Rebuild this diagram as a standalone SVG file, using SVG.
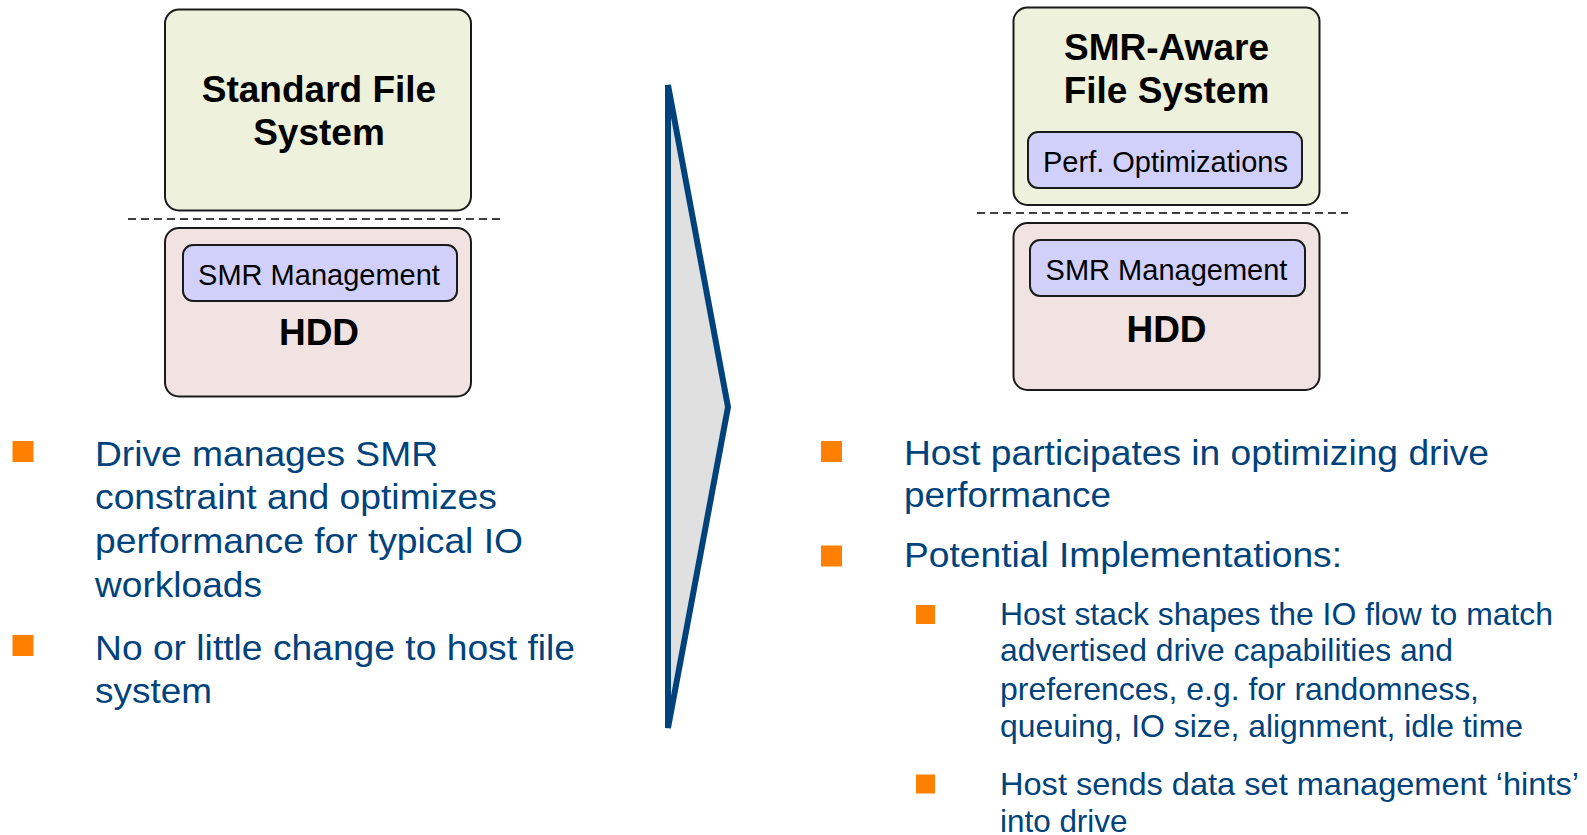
<svg xmlns="http://www.w3.org/2000/svg" width="1587" height="835" viewBox="0 0 1587 835">
<style>
.fs{fill:#eef1dc;stroke:#1a1a1a;stroke-width:2}
.hdd{fill:#f2e3e3;stroke:#1a1a1a;stroke-width:2}
.inner{fill:#d0d0fa;stroke:#1a1a1a;stroke-width:2}
.title{font-family:"Liberation Sans",Arial,sans-serif;font-weight:bold;font-size:37px;fill:#000;text-anchor:middle}
.label{font-family:"Liberation Sans",Arial,sans-serif;font-size:29px;fill:#000;text-anchor:middle}
.dash{stroke:#000;stroke-width:1.5;stroke-dasharray:8 5;fill:none}
.b1{font-family:"Liberation Sans",Arial,sans-serif;font-size:35px;fill:#00437c}
.b2{font-family:"Liberation Sans",Arial,sans-serif;font-size:30.5px;fill:#00437c}
.sq{fill:#ff8000}
</style>
<g id="left-fs">
<rect class="fs" x="165" y="9.5" width="306" height="201" rx="14"/>
<text class="title" x="319" y="101.5">Standard File</text>
<text class="title" x="319" y="145">System</text>
</g>
<g id="left-hdd">
<rect class="hdd" x="165" y="228" width="306" height="168.5" rx="14"/>
<rect class="inner" x="183" y="245" width="274" height="56" rx="10"/>
<text class="label" x="319" y="285">SMR Management</text>
<text class="title" x="319" y="345">HDD</text>
</g>
<g id="right-fs">
<rect class="fs" x="1013.5" y="7.5" width="306" height="197.5" rx="14"/>
<text class="title" x="1166.5" y="60">SMR-Aware</text>
<text class="title" x="1166.5" y="102.5">File System</text>
<rect class="inner" x="1028" y="132" width="274" height="56" rx="10"/>
<text class="label" x="1165.5" y="171.5">Perf. Optimizations</text>
</g>
<g id="right-hdd">
<rect class="hdd" x="1013.5" y="223" width="306" height="167" rx="14"/>
<rect class="inner" x="1030" y="240" width="275" height="56" rx="10"/>
<text class="label" x="1166.5" y="279.5">SMR Management</text>
<text class="title" x="1166.5" y="341.5">HDD</text>
</g>
<g id="connectors">
<line class="dash" x1="128" y1="219" x2="502" y2="219"/>
<line class="dash" x1="977" y1="213" x2="1348" y2="213"/>
<polygon points="668,85 728,407 668,728" fill="#e0e0e0" stroke="#00437c" stroke-width="6" stroke-linejoin="miter"/>
</g>
<g id="left-bullets">
<rect class="sq" x="12.5" y="441" width="21" height="21"/>
<text class="b1" x="95" y="466" textLength="343" lengthAdjust="spacingAndGlyphs">Drive manages SMR</text>
<text class="b1" x="95" y="509" textLength="402" lengthAdjust="spacingAndGlyphs">constraint and optimizes</text>
<text class="b1" x="95" y="553" textLength="428" lengthAdjust="spacingAndGlyphs">performance for typical IO</text>
<text class="b1" x="95" y="597" textLength="167" lengthAdjust="spacingAndGlyphs">workloads</text>
<rect class="sq" x="12.5" y="635" width="21" height="21"/>
<text class="b1" x="95" y="660" textLength="480" lengthAdjust="spacingAndGlyphs">No or little change to host file</text>
<text class="b1" x="95" y="703" textLength="117" lengthAdjust="spacingAndGlyphs">system</text>
</g>
<g id="right-bullets">
<rect class="sq" x="821" y="441" width="21" height="21"/>
<text class="b1" x="904" y="464.5" textLength="585" lengthAdjust="spacingAndGlyphs">Host participates in optimizing drive</text>
<text class="b1" x="904" y="507" textLength="207" lengthAdjust="spacingAndGlyphs">performance</text>
<rect class="sq" x="821" y="545.5" width="21" height="21"/>
<text class="b1" x="904" y="567" textLength="438" lengthAdjust="spacingAndGlyphs">Potential Implementations:</text>
<rect class="sq" x="916" y="605" width="19" height="19"/>
<text class="b2" x="1000" y="624.5" textLength="553" lengthAdjust="spacingAndGlyphs">Host stack shapes the IO flow to match</text>
<text class="b2" x="1000" y="661" textLength="453" lengthAdjust="spacingAndGlyphs">advertised drive capabilities and</text>
<text class="b2" x="1000" y="700" textLength="479" lengthAdjust="spacingAndGlyphs">preferences, e.g. for randomness,</text>
<text class="b2" x="1000" y="737" textLength="523" lengthAdjust="spacingAndGlyphs">queuing, IO size, alignment, idle time</text>
<rect class="sq" x="916" y="774.5" width="19" height="19"/>
<text class="b2" x="1000" y="795" textLength="579" lengthAdjust="spacingAndGlyphs">Host sends data set management ‘hints’</text>
<text class="b2" x="1000" y="831.5" textLength="127.5" lengthAdjust="spacingAndGlyphs">into drive</text>
</g>
</svg>
